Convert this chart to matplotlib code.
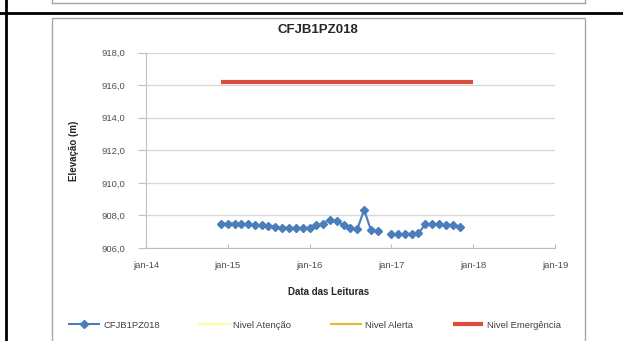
import matplotlib
matplotlib.use("Agg")
import matplotlib.pyplot as plt
import matplotlib.dates as mdates
from matplotlib.lines import Line2D
from matplotlib.patches import Rectangle
import numpy as np
import pandas as pd

plt.rcParams['font.family'] = ['Liberation Sans Narrow', 'Liberation Sans', 'DejaVu Sans']

# dados
datas = pd.date_range('2014-12-01', '2017-11-01', freq='MS')
cota = [907.5, 907.5, 907.5, 907.45, 907.45, 907.4, 907.4, 907.35, 907.3, 907.25,
        907.25, 907.2, 907.2, 907.25, 907.4, 907.5, 907.75, 907.65, 907.4, 907.25,
        907.15, 908.35, 907.1, 907.05, np.nan, 906.85, 906.85, 906.85, 906.85, 906.9,
        907.45, 907.45, 907.45, 907.4, 907.4, 907.3]
datas_nivel = pd.to_datetime(['2014-12-01', '2018-01-01'])
nivel_emergencia = [916.2, 916.2]
nivel_atencao = []
nivel_alerta = []
anos = pd.to_datetime(['2014-01-01', '2015-01-01', '2016-01-01', '2017-01-01',
                       '2018-01-01', '2019-01-01'])

W, H = 623, 341
fig = plt.figure(figsize=(W / 100, H / 100), dpi=100)
fig.patch.set_facecolor('white')

def fx(px):
    return px / W

def fy(py):
    return 1 - py / H

# moldura da celula / grafico anterior
fig.add_artist(Line2D([fx(52), fx(585)], [fy(3), fy(3)], color='#a6a6a6', lw=1))
fig.add_artist(Line2D([fx(52), fx(52)], [fy(0), fy(3)], color='#a6a6a6', lw=1))
fig.add_artist(Line2D([fx(585), fx(585)], [fy(0), fy(3)], color='#a6a6a6', lw=1))
fig.add_artist(Line2D([0, 1], [fy(13), fy(13)], color='black', lw=2))
fig.add_artist(Line2D([fx(6), fx(6)], [0, 1], color='black', lw=2))
fig.add_artist(Rectangle((fx(52), fy(345)), fx(585) - fx(52), fy(18) - fy(345),
                         transform=fig.transFigure, fill=False, edgecolor='#a6a6a6', lw=1))

ax = fig.add_axes([fx(146), fy(248), fx(555) - fx(146), fy(52.7) - fy(248)])

ax.plot(datas, cota, color='#4a7ebb', lw=1.5, marker='D', markersize=3.8,
        label='CFJB1PZ018')
ax.plot([], [], color='#ffff99', lw=1.5, label='Nivel Atenção')
ax.plot([], [], color='#e6b830', lw=1.5, label='Nivel Alerta')
ax.plot(datas_nivel, nivel_emergencia, color='#dd4b3f', lw=3, label='Nivel Emergência',
        solid_capstyle='butt')

ax.set_xlim(anos[0], anos[-1])
ax.set_xticks(anos)
ax.xaxis.set_major_formatter(plt.FuncFormatter(
    lambda v, p: 'jan-' + mdates.num2date(v).strftime('%y')))
ax.set_ylim(906, 918)
ax.set_yticks(np.arange(906, 918.1, 2))
ax.yaxis.set_major_formatter(plt.FuncFormatter(lambda v, p: f'{v:.1f}'.replace('.', ',')))

ax.grid(axis='y', color='#d9d9d9', lw=1)
ax.set_axisbelow(True)
for s in ['top', 'right']:
    ax.spines[s].set_visible(False)
for s in ['left', 'bottom']:
    ax.spines[s].set_color('#bfbfbf')
ax.tick_params(axis='both', colors='#bfbfbf', labelcolor='#505050', labelsize=6.8)
ax.tick_params(axis='y', length=6, pad=9)
ax.tick_params(axis='x', direction='in', length=3, pad=9)

ax.set_xlabel('Data das Leituras', fontsize=7, fontweight='bold', color='#262626')
ax.xaxis.set_label_coords((329 - 146) / (555 - 146), -0.2)
ax.set_ylabel('Elevação (m)', fontsize=7, fontweight='bold', color='#262626')
ax.yaxis.set_label_coords(-0.165, 0.5)

fig.text(fx(318), fy(30), 'CFJB1PZ018', ha='center', va='center', fontsize=9.5,
         fontweight='bold', color='#262626')

fig.legend(loc='center', bbox_to_anchor=(fx(315), fy(325)), ncol=4, frameon=False,
           fontsize=6.8, handlelength=3.2, handletextpad=0.4, columnspacing=4.2,
           labelcolor='#404040')

fig.savefig('out.png', dpi=100)
